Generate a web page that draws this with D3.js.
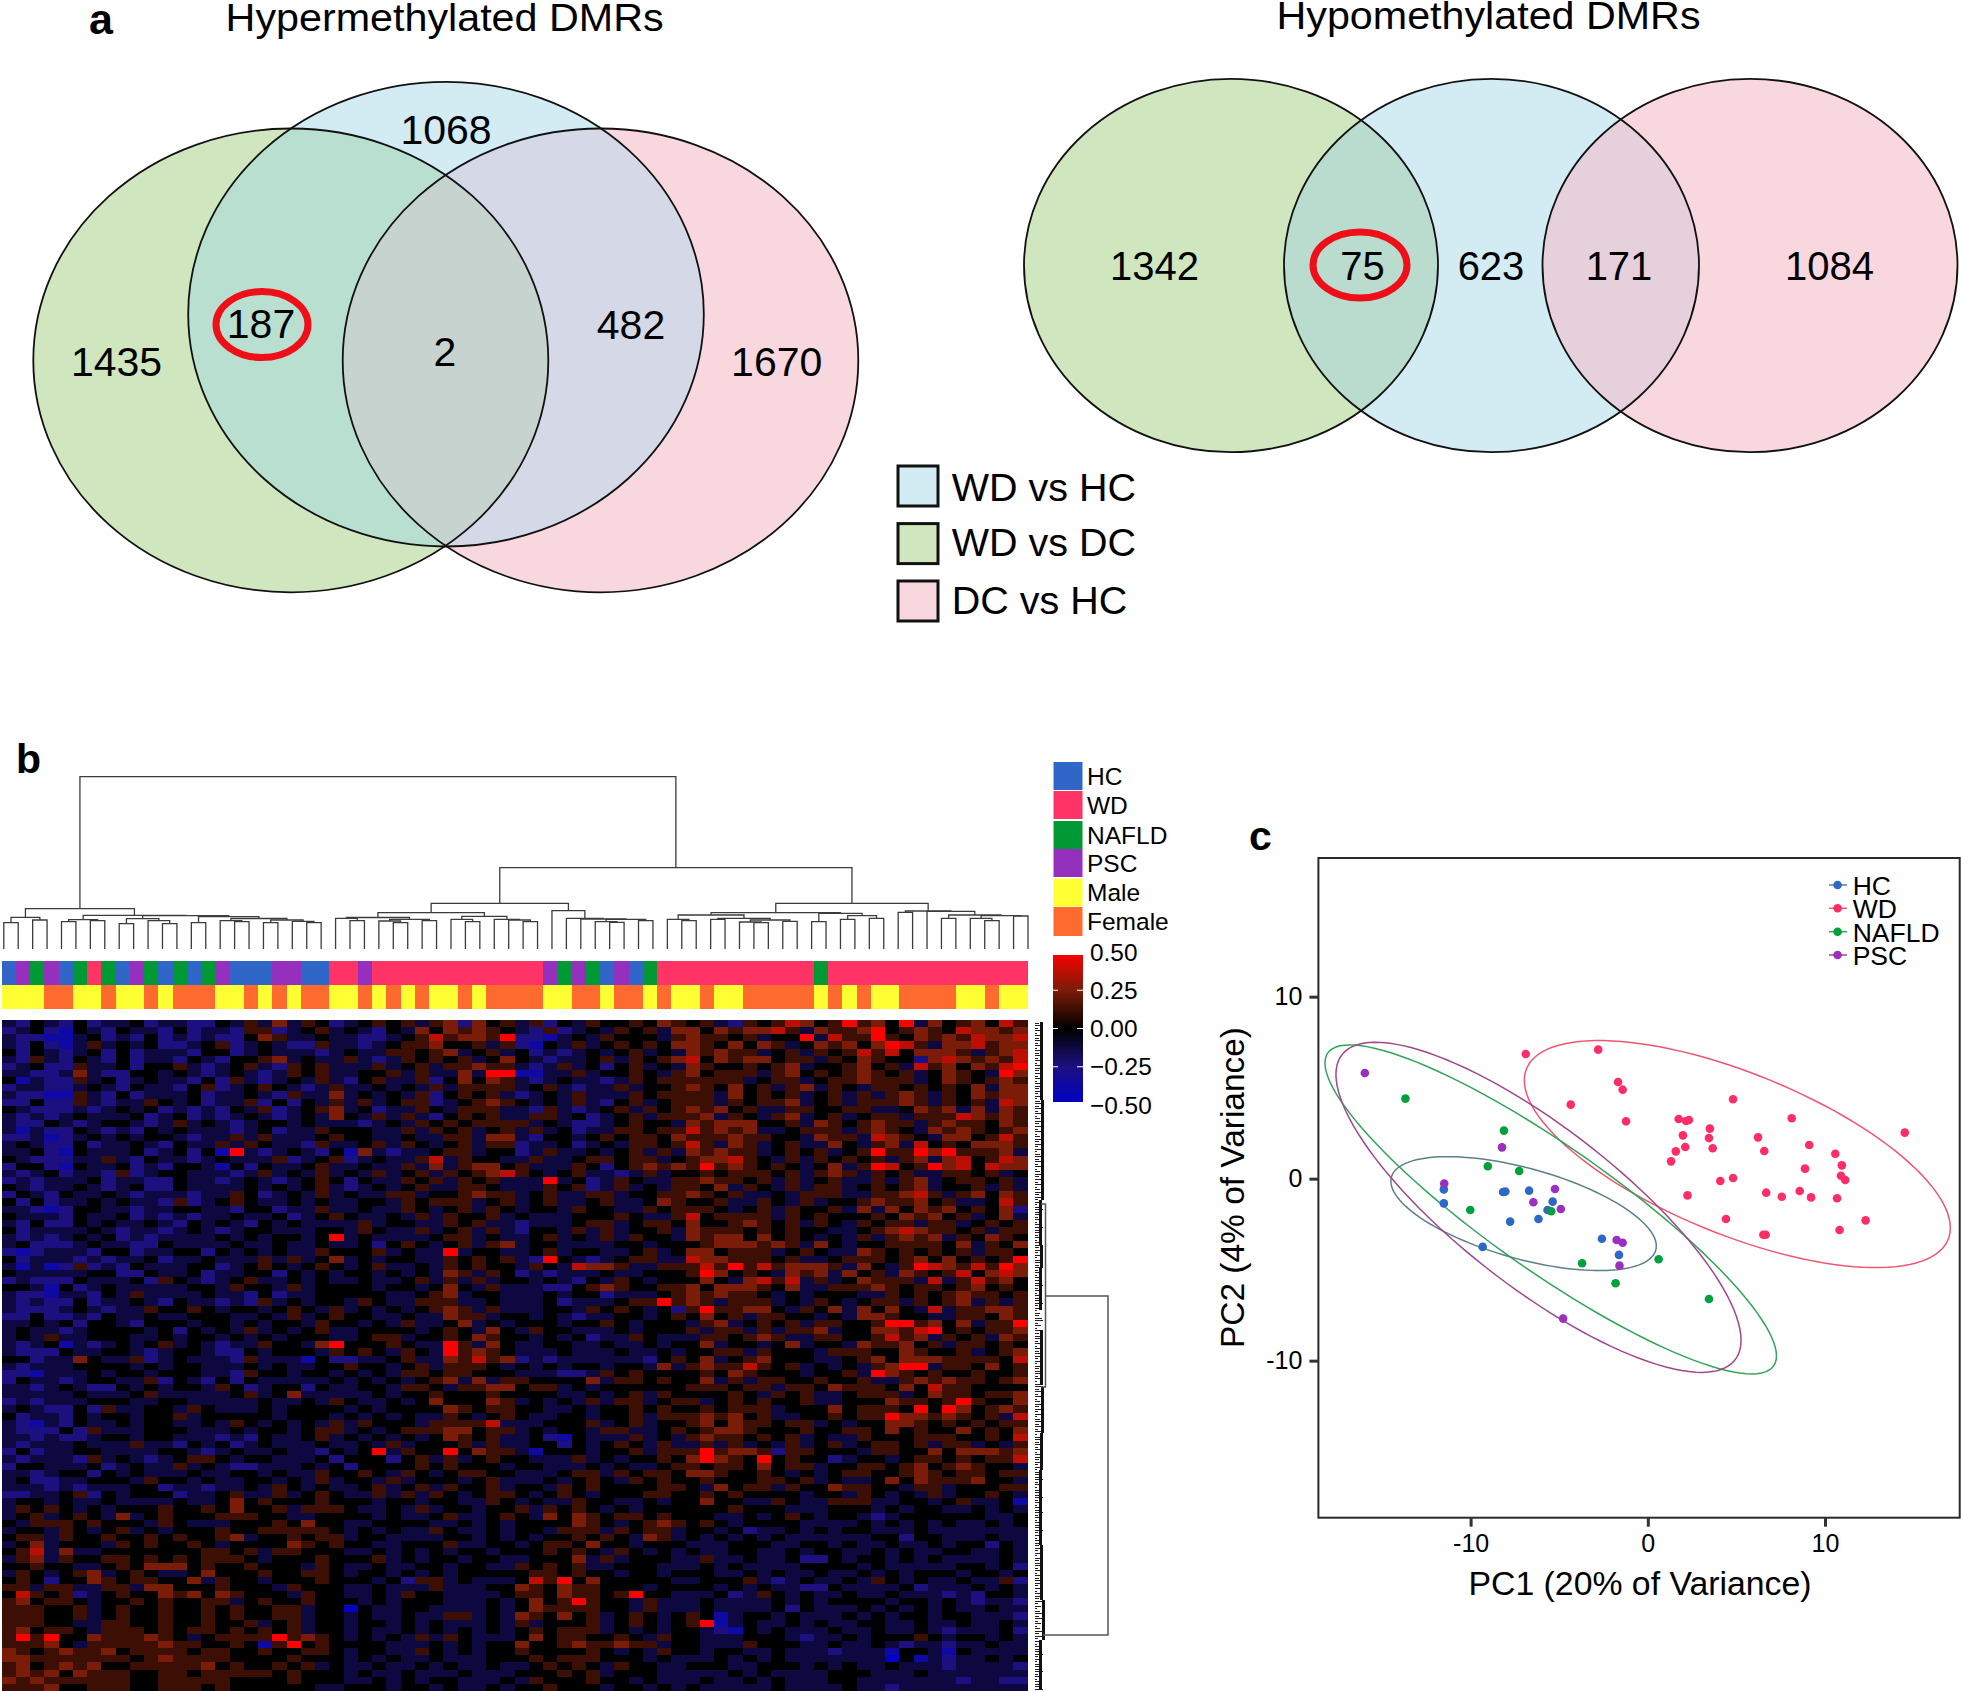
<!DOCTYPE html>
<html><head><meta charset="utf-8">
<script src="https://cdn.jsdelivr.net/npm/d3@7"></script>
<style>html,body{margin:0;background:#fff}svg{display:block}text{font-family:"Liberation Sans",Arial,sans-serif;fill:#000}</style>
</head><body><svg id="c" width="1961" height="1691"></svg>
<script>
// ---------- panel a ----------
const vennLabels = ["WD vs HC","WD vs DC","DC vs HC"];
const hyperCounts = [["1068",446,144],["187",261,338],["1435",116.5,375.5],["2",445,365.6],["482",631,338.7],["1670",776.7,375.5]];
const hypoCounts = [["1342",1154.4,280.4],["75",1362.6,280.4],["623",1491,280.4],["171",1619,280.4],["1084",1829.5,280.4]];
// ---------- panel b ----------
const groupLegend = ["HC","WD","NAFLD","PSC","Male","Female"];
const colGroup = ["HC","PSC","NAFLD","PSC","HC","NAFLD","WD","NAFLD","HC","PSC","NAFLD","HC","NAFLD","HC","NAFLD","PSC","HC","HC","HC","PSC","PSC","HC","HC","WD","WD","PSC","WD","WD","WD","WD","WD","WD","WD","WD","WD","WD","WD","WD","PSC","NAFLD","PSC","NAFLD","HC","PSC","HC","NAFLD","WD","WD","WD","WD","WD","WD","WD","WD","WD","WD","WD","NAFLD","WD","WD","WD","WD","WD","WD","WD","WD","WD","WD","WD","WD","WD","WD"];
const colSex = ["Male","Male","Male","Female","Female","Male","Male","Female","Male","Male","Female","Male","Female","Female","Female","Male","Male","Female","Male","Female","Male","Female","Female","Male","Male","Female","Male","Female","Male","Female","Male","Male","Female","Male","Female","Female","Female","Female","Male","Male","Female","Female","Male","Female","Female","Male","Female","Male","Male","Female","Male","Male","Female","Female","Female","Female","Female","Male","Female","Male","Female","Male","Male","Female","Female","Female","Female","Male","Male","Female","Male","Male"];
const groupColors = ["#3166c9","#ff3366","#009933","#9430bd","#ffff33","#ff6a2e"];
const colorbarTicks = [0.5,0.25,0,-0.25,-0.5];
// column dendrogram: [merge height, left, right]; integers are leaf columns
const colDendro = [172.3,
 [40.3,[31.7,[26.3,0,1],[29,2,3]],
   [33.7,[29.3,[27.3,4,5],[28.3,6,7]],
     [33.3,[30.3,[25.3,8,9],[28.3,10,[25.3,11,12]]],
       [32.3,[26.3,13,14],[30.5,[28.3,15,[27.3,16,17]],[29,[26.3,18,19],[27.7,20,[26.3,21,22]]]]]]]],
 [81.3,
  [45.7,
   [36.3,[31.5,[30.7,23,[28.3,24,25]],[29.7,[28,26,[26.3,27,28]],[28.3,29,30]]],
     [32.7,[29.7,31,[27.3,32,33]],[29.7,34,[29,35,[27.3,36,37]]]]],
   [38.3,38,[30.7,39,[30,40,[29.7,[27.3,41,[26.7,42,43]],[28.3,44,45]]]]]],
  [45.7,
   [36.3,[34,[29.7,46,[28.3,47,48]],[30.7,[29.7,49,50],[29,[27,51,[26.3,52,53]],[27.7,54,55]]]],
     [35.7,[27.3,56,57],[33.3,[29.7,58,59],[30.7,60,61]]]],
   [38,[36.7,62,63],[37.7,64,[34,[30.7,65,66],[33.3,[30.7,67,[28.3,68,69]],[33,70,71]]]]]]]];
const rowLeafLen = "4635274638254736285473625847362574836257483625748362574836257483625847362584736258473625847362574836257483625748362547836254783625478362547836258473625847362584736257483625748362574836257483625483625748362574836254783625478362574836257483625748362574836257483625748";
const rowSpines = [[1022,1100,1041],[1100,1200,1042],[1200,1245,1040],[1245,1268,1041],[1268,1310,1040],[1330,1385,1041],[1387,1433,1042],[1433,1470,1041],[1470,1545,1040],[1545,1600,1041],[1600,1640,1043],[1640,1690,1040]];
// heat values, one digit per cell: 0 = -0.50, 4 = 0.00, 8 = +0.50
const heatRows = [
"324324233423 322435363542 345453562645 352435445465 453254576458 564836456475",
"234214324332 423325523453 432436465654 325234354536 646566753655 684565476656",
"322113423242 323224653343 322345756658 221343544435 655453448375 585465657667",
"324213534342 234523432253 323455644535 214353454546 654646534656 468753667566",
"424323424233 324423433323 433554563453 423234345343 656553453545 757466653567",
"325324324233 243244563433 532354545346 432334535456 746566455354 654426765657",
"234225334244 532345325453 335345355655 323534245343 654454563445 645375646578",
"332236322443 432343235453 344535336388 113353445435 645553564545 654534654386",
"413225342343 324253234353 245335246465 323433235455 555534553455 655534654565",
"233223432433 245234543235 334343535555 345323353445 654645356354 355454546366",
"322115324233 342334325336 343435245453 234353335455 553645453453 535653546566",
"224225323354 342335242435 353455234565 434353245345 553545563453 555653545376",
"432223234342 323243523456 342335435553 325323453545 656453355445 533465636365",
"323234333423 423234323436 435353245453 355342345355 563543563453 455355576565",
"322432344323 534323443433 323435454555 534322345443 656664453654 565535655465",
"313224323243 433323423354 443353545345 353423355455 756563345553 565436565456",
"223123434344 323353533345 443343355366 324434545546 555655443655 376543664575",
"343224233432 433535433253 345354345355 233423435545 753653453364 356374546665",
"334214333423 424183234324 163233455344 235334345353 656553454534 585586855563",
"432223353243 323433352345 234335735443 353345545534 566754353545 453563674576",
"244214334232 443142433453 343353635664 533354245656 585654543463 587458674766",
"323423325234 433323534353 435345354567 543453323534 454555453565 354533554534",
"232333423322 433234323454 243354535453 338342354335 565545353453 353563455453",
"432334323422 433334343453 234345335543 335452353435 546354353553 454563445353",
"243243343233 323354234353 433553445655 345335534455 654533435553 355675356465",
"424233434332 523454334343 344354555345 345334533465 445335435344 565564533475",
"332124433233 443324423353 343354345354 344354433545 554345354453 636465645462",
"433324334232 323343342345 433435354453 433344454335 745555354544 454656453463",
"324224343343 243432434333 353443354533 233345534554 644565453543 545535534545",
"423333432332 343234433344 354335345353 244353534453 655545454433 456765545355",
"323234342323 333434344348 343333455343 345343535443 656646454343 535656354654",
"342223433224 333343343343 342454345356 344333344344 456665653643 445555463546",
"212333244233 442434343354 445343383443 345344334534 664555345433 654545453554",
"423332323342 334333535346 343443354545 328432345533 766555453345 554564645458",
"313125232433 344234543454 345334354544 354376653355 575857566653 643587657586",
"433333442243 342334424343 443434365354 232333433444 586454365636 453654574676",
"232224333425 432345334343 343345353534 434324354344 464367573534 655537357564",
"443142343333 344354435344 443443464353 332245654455 646665463355 565455456454",
"322133243533 334332423344 444334563443 334344233345 656554343444 335454565545",
"323224233432 433232534344 354335553343 334233345585 653555343543 455354563535",
"322234323354 454344345435 343434565353 334435454342 585566435463 646437355665",
"224223243343 344433435345 443343365534 434323344345 464535544343 665443355465",
"334342443244 434434344354 434353346343 444344543444 356345453554 458856463558",
"343323444434 243435343453 344443454364 354433343444 535535355634 466578454556",
"343533444334 344343434443 345534454654 434342335433 355456533554 457563545365",
"323413234345 343233544368 444543385364 334433433434 463443463443 655645355454",
"322243344323 443224344435 454354385654 333433343343 445535444355 544654453456",
"442336433523 433325333142 233453365756 232333333245 463456444334 564666555547",
"323334444343 443334343344 544345355543 434344344363 565575453434 356883554645",
"221333434434 443325443443 434355455444 333223545444 454654443445 386545445445",
"243323443352 432424333334 343434563635 544446355454 463535544544 533565655456",
"332343224343 443542344243 344355435566 455343444444 555455355465 554647554444",
"333334333453 333345346333 334344544454 444334345354 444543545334 555346554556",
"232333444334 433333433435 433434644465 343435355345 534545445334 446554585446",
"343224253344 354333434444 343444465455 443343445454 454555344464 555484864565",
"423324344344 534444434443 434343354345 433443445355 565645334454 558665654537",
"321324334344 334354343435 354443555573 334445345344 564655455343 446654545455",
"322242533344 433343443455 343455566455 343443553345 456654445445 546454464546",
"332322344344 333232433453 434343465453 342143335343 565545453433 544455544547",
"323334333533 243423433343 343534445353 344243454353 353534353453 455453553435",
"242334433334 432343343324 348354484655 314443445355 585665255444 355446466656",
"323332534323 455434433342 444245353454 433353434454 686548454423 443455454557",
"244333423433 534322333434 244445454443 443334343345 545546455344 554564565443",
"332344243433 343344343354 454354345544 333455354554 665445434345 544565455455",
"342233444354 434334434353 443534443453 334345435454 454445545343 346465556443",
"333232333442 332334354343 345345354453 443545444455 436455354465 544355344455",
"223345243444 233453353454 335353543455 434543444554 454544443443 543435344543",
"344343343333 433464544454 443443443354 343354433434 464433543355 533443453341",
"354543434445 445464453555 433435344344 535454343444 444544433344 434344334343",
"345345436345 444555443344 443433453345 436465455454 443343454344 323444444334",
"435554544435 433344454644 334444334343 444465434565 454344443333 434343433434",
"344354345343 444544555554 343433543343 443555354553 443423343434 433343333333",
"455354454454 544563445455 344333344343 434454543653 434343433333 344244333433",
"346344435454 454344446545 443344453344 345546443444 333444334434 334334344243",
"457363344444 445545355444 334343434434 445454354343 433443343443 343433443343",
"356354455454 545554344454 445343443443 344463534443 353343342243 443434333343",
"445443345466 645445444354 334334434433 545453344433 343433334444 343333344342",
"354345634543 346444544554 344343434444 455454434434 443343433433 434344434434",
"454244654554 463544344454 443425534333 475846444443 344453234334 354343343352",
"553553355366 444544435444 334333533344 654655444344 443434332243 333423334343",
"475452345446 564654443544 334354433334 554655458443 334235434334 334333232443",
"564554344545 445534544544 434344433343 464585443533 343333434344 443443432332",
"555445345445 445454455344 043344333343 465555443533 343333424333 434343433433",
"555445345445 445454455344 343343355343 654645345434 541344343334 343443443332",
"555443355445 445445345344 344343433343 534445345434 581343343433 443343343343",
"564554355545 455454545344 343343434343 454555343434 432143433343 343343233342",
"585844655565 434555585654 343435354333 464554454354 433344432334 344454344343",
"555643555556 554454158454 444333434344 644565565534 433354443343 343233233433",
"654565564555 545544544554 344335434344 544445434354 434433433323 331443143333",
"665555555456 555544445444 343433433344 454555444343 334343433333 330413233434",
"564565644555 556454454534 334334343343 345454354433 444334443434 334333233332",
"565646555445 545555545444 343343334333 444545344433 333434333344 433343333333",
"656555555445 555544445444 334343443334 354445443433 343343433344 333333323322",
"555644555445 554544444433 444344343343 445444344343 433333433334 332333333333"
].map(s => s.replace(/ /g,""));
// ---------- panel c ----------
const pcaSeries = ["HC","WD","NAFLD","PSC"];
const pcaColors = ["#2f67c9","#ff2d66","#00a03c","#9a2fc0"];
const ringColors = ["#5b8085","#f0566f","#2fa55a","#a0478c"];
const hcPoints = [[-11.51,-.59],[-11.51,-1.36],[-8.17,-.73],[-8.04,-.71],[-6.7,-.66],[-5.37,-1.26],[-5.66,-1.72],[-6.17,-2.22],[-7.77,-2.36],[-9.32,-3.75],[-2.59,-3.3],[-1.63,-4.19]];
const wdPoints = [[-6.89,6.85],[-2.8,7.09],[-1.68,5.31],[-1.42,4.89],[-4.35,4.07],[-1.23,3.15],[4.81,4.36],[1.74,3.28],[2.16,3.17],[2.32,3.22],[3.5,2.75],[3.45,2.23],[1.98,2.38],[6.22,2.27],[8.12,3.32],[14.5,2.53],[9.11,1.85],[3.66,1.67],[2.11,1.74],[1.58,1.5],[1.31,.95],[6.57,1.52],[10.58,1.37],[10.95,.73],[8.87,.55],[10.9,.16],[11.14,-.07],[4.81,.04],[4.09,-.13],[2.24,-.92],[6.68,-.77],[7.56,-.99],[8.57,-.68],[9.21,-1.03],[10.68,-1.08],[4.41,-2.22],[12.29,-2.29],[10.82,-2.82],[6.52,-3.08],[6.65,-3.08]];
const nafldPoints = [[-13.68,4.4],[-8.12,2.64],[-9.03,.68],[-7.26,.42],[-10.02,-1.72],[-5.45,-1.79],[-3.71,-4.65],[.61,-4.43],[-1.82,-5.75],[3.45,-6.61]];
const pscPoints = [[-15.97,5.81],[-8.23,1.72],[-11.49,-.27],[-5.24,-.57],[-6.46,-1.3],[-4.91,-1.67],[-1.76,-3.37],[-1.42,-3.52],[-1.6,-4.78],[-4.78,-7.69]];
// ellipses: centre x, centre y, half width, half height, correlation
const rings = [[-7.01,-1.92,7.49,3.13,-.57],[5.05,1.35,12.02,6.24,-.65],[-5.48,-1.69,12.74,9.04,-.89],[-6.17,-1.575,11.43,9.07,-.805]];

const svg = d3.select("#c");
const txt = (g,s,x,y,size,o={}) => {
  const t = g.append("text").attr("x",x).attr("y",y).attr("font-size",size).text(s);
  if(o.anchor) t.attr("text-anchor",o.anchor);
  if(o.weight) t.attr("font-weight",o.weight);
  if(o.len) t.attr("textLength",o.len).attr("lengthAdjust","spacingAndGlyphs");
  return t;
};
// ---- Venn ----
const G="#cfe6bf",B="#d3ebf3",P="#f8d7df",STK="#111";
const defs = svg.append("defs");
function venn(id,E,colors,counts,oval){
  const g = svg.append("g");
  ["g","b","p"].forEach((k,i)=>{
    defs.append("clipPath").attr("id",id+k).append("ellipse").attr("cx",E[i][0]).attr("cy",E[i][1]).attr("rx",E[i][2]).attr("ry",E[i][3]);
  });
  const el=(i,f,clip)=>{
    let host=g;
    (clip||[]).forEach(c=>{host=host.append("g").attr("clip-path",`url(#${id}${c})`);});
    host.append("ellipse").attr("cx",E[i][0]).attr("cy",E[i][1]).attr("rx",E[i][2]).attr("ry",E[i][3]).attr("fill",f);
  };
  el(0,G); el(2,P); el(1,B);
  el(1,colors[0],["g"]); el(1,colors[1],["p"]);
  el(1,colors[2],["g","p"]);
  E.forEach(e=>g.append("ellipse").attr("cx",e[0]).attr("cy",e[1]).attr("rx",e[2]).attr("ry",e[3]).attr("fill","none").attr("stroke",STK).attr("stroke-width",1.8));
  g.append("ellipse").attr("cx",oval[0]).attr("cy",oval[1]).attr("rx",oval[2]).attr("ry",oval[3]).attr("fill","none").attr("stroke","#ee0f18").attr("stroke-width",7);
  counts.forEach(c=>txt(g,c[0],c[1],c[2],oval[4],{anchor:"middle"}));
}
venn("h",[[290.8,360.4,257.5,231.9],[446,314.2,257.8,232.3],[600.5,360.4,257.8,231.9]],["#b9dfd0","#d5d8e6","#c6d3cf"],hyperCounts,[262,324.6,46,33,41]);
venn("o",[[1231,265.5,207,186.7],[1491.5,265.5,207.5,186.7],[1750,265.5,207.5,186.7]],["#b9dccf","#e5d0dc","#c6d3cf"],hypoCounts,[1360,265,47,33,40]);
txt(svg,"a",89,33.6,43,{weight:"bold"});
txt(svg,"Hypermethylated DMRs",225.6,31,38,{len:438});
txt(svg,"Hypomethylated DMRs",1276.5,29.4,38,{len:424});
[[466,501,B],[523.6,556,G],[581,614,P]].forEach((r,i)=>{
  svg.append("rect").attr("x",898).attr("y",r[0]).attr("width",40).attr("height",40).attr("fill",r[2]).attr("stroke",STK).attr("stroke-width",3);
  txt(svg,vennLabels[i],951.7,r[1],39.5);
});
// ---- heatmap ----
txt(svg,"b",16,773,41,{weight:"bold"});
const colX = d3.scaleBand().domain(d3.range(72)).range([1.7,1027.7]);
const rowY = d3.scaleBand().domain(d3.range(heatRows.length)).range([1020,1691]);
const heatColor = d3.scaleLinear().domain([-.5,-.25,0,.25,.5]).range(["#0000c8","#1c1080","#000000","#7a1c08","#ff0000"]);
const groupColor = d3.scaleOrdinal().domain(groupLegend).range(groupColors);
const cells=[];
heatRows.forEach((row,r)=>d3.range(72).forEach(c=>cells.push({r,c,v:(Number(row[c]??4)-4)/8})));
svg.append("g").attr("shape-rendering","crispEdges").selectAll("rect").data(cells).join("rect")
  .attr("x",d=>colX(d.c)).attr("y",d=>rowY(d.r)).attr("width",colX.bandwidth()+.5).attr("height",rowY.bandwidth()+.5).attr("fill",d=>heatColor(d.v));
[[colGroup,961,985],[colSex,985,1009]].forEach(([arr,y0,y1])=>{
  svg.append("g").attr("shape-rendering","crispEdges").selectAll("rect").data(arr).join("rect")
   .attr("x",(d,i)=>colX(i)).attr("y",y0).attr("width",colX.bandwidth()+.5).attr("height",y1-y0).attr("fill",d=>groupColor(d));
});
// column dendrogram
const leafX = d3.scaleLinear().domain([0,71]).range([3.8,1028]);
const dendY = d3.scaleLinear().domain([0,172.3]).range([949,776.7]);
const dg = svg.append("g").attr("fill","none").attr("stroke","#3c3c3c").attr("stroke-width",1.3);
function drawNode(n){
  if(typeof n==="number") return {x:leafX(n),h:0};
  const a=drawNode(n[1]), b=drawNode(n[2]);
  dg.append("path").attr("d",`M${a.x},${dendY(a.h)}V${dendY(n[0])}H${b.x}V${dendY(b.h)}`);
  return {x:(a.x+b.x)/2,h:n[0]};
}
drawNode(colDendro);
// row dendrogram
const leafY = d3.scaleBand().domain(d3.range(rowLeafLen.length)).range([1022,1691]);
const rg = svg.append("g").attr("shape-rendering","crispEdges");
rg.selectAll("line").data(rowLeafLen.split("")).join("line")
  .attr("x1",1034.5).attr("x2",d=>1034.5+ +d).attr("y1",(d,i)=>leafY(i)+1).attr("y2",(d,i)=>leafY(i)+1).attr("stroke","#222").attr("stroke-width",1);
rg.selectAll("rect").data(rowSpines).join("rect").attr("x",d=>d[2]-1).attr("y",d=>d[0]).attr("width",2.5).attr("height",d=>d[1]-d[0]).attr("fill","#111");
const rb = svg.append("g").attr("fill","none").attr("stroke","#555").attr("stroke-width",1.5);
rb.append("path").attr("d","M1041,1204H1045.5V1387H1041");
rb.append("path").attr("d","M1045.5,1296H1108V1635H1043");
// legends b
const swatchY=[762,791,821,849,878.5,907];
groupLegend.forEach((k,i)=>{
  svg.append("rect").attr("x",1053.5).attr("y",swatchY[i]).attr("width",29).attr("height",(i==5?29:28)).attr("fill",groupColor(k));
  txt(svg,k,1087,swatchY[i]+22.5,24.5);
});
const cbY = d3.scaleLinear().domain([-.5,.5]).range([1105,952]);
svg.append("g").attr("shape-rendering","crispEdges").selectAll("rect").data(d3.range(-.48,.48,.005)).join("rect")
  .attr("x",1053).attr("y",d=>cbY(d)-1).attr("width",29.5).attr("height",1.5).attr("fill",d=>heatColor(d));
colorbarTicks.forEach(t=>{
  txt(svg,t.toFixed(2).replace("-","\u2212"),1090,cbY(t)+8.5,24.4);
  if(Math.abs(t)<.5){
    svg.append("line").attr("x1",1053).attr("x2",1058).attr("y1",cbY(t)).attr("y2",cbY(t)).attr("stroke","#fff");
    svg.append("line").attr("x1",1077).attr("x2",1083).attr("y1",cbY(t)).attr("y2",cbY(t)).attr("stroke","#fff");
  }
});
// ---- PCA ----
txt(svg,"c",1249,850,41,{weight:"bold"});
const px = d3.scaleLinear().domain([-18.59,17.6]).range([1318.4,1959.7]);
const py = d3.scaleLinear().domain([-18.63,17.62]).range([1517.7,858]);
svg.append("rect").attr("x",1318.4).attr("y",858).attr("width",641.3).attr("height",659.7).attr("fill","none").attr("stroke","#2a2a2a").attr("stroke-width",2);
const ax = svg.append("g").attr("transform","translate(0,1517.7)").call(d3.axisBottom(px).tickValues([-10,0,10]).tickSize(9).tickPadding(8).tickFormat(d=>String(d)));
const ay = svg.append("g").attr("transform","translate(1318.4,0)").call(d3.axisLeft(py).tickValues([-10,0,10]).tickSize(9).tickPadding(7).tickFormat(d=>String(d)));
[ax,ay].forEach(a=>{a.select(".domain").remove();a.selectAll("line").attr("stroke","#333").attr("stroke-width",3);a.selectAll("text").attr("font-size",25).attr("font-family",'"Liberation Sans",Arial,sans-serif').attr("fill","#000");});
txt(svg,"PC1 (20% of Variance)",1468.5,1595,33,{len:343});
svg.append("text").attr("transform","translate(1244,1348) rotate(-90)").attr("font-size",33).attr("textLength",321).attr("lengthAdjust","spacingAndGlyphs").text("PC2 (4% of Variance)");
const ringLine = d3.line().x(d=>px(d[0])).y(d=>py(d[1]));
rings.forEach((r,i)=>{
  const pts=d3.range(0,361,3).map(a=>{const t=a*Math.PI/180;return [r[0]+r[2]*Math.cos(t), r[1]+r[3]*(r[4]*Math.cos(t)+Math.sqrt(1-r[4]*r[4])*Math.sin(t))];});
  svg.append("path").attr("d",ringLine(pts)).attr("fill","none").attr("stroke",ringColors[i]).attr("stroke-width",1.5);
});
[hcPoints,wdPoints,nafldPoints,pscPoints].forEach((pts,i)=>{
  svg.append("g").selectAll("circle").data(pts).join("circle").attr("cx",d=>px(d[0])).attr("cy",d=>py(d[1])).attr("r",4.3).attr("fill",pcaColors[i]);
});
const lgY=[885,908.3,931.7,955];
pcaSeries.forEach((s,i)=>{
  svg.append("line").attr("x1",1829).attr("x2",1847).attr("y1",lgY[i]).attr("y2",lgY[i]).attr("stroke",ringColors[i]).attr("stroke-width",1.5);
  svg.append("circle").attr("cx",1837.6).attr("cy",lgY[i]).attr("r",4.3).attr("fill",pcaColors[i]);
  txt(svg,s,1852.7,lgY[i]+10,26.5);
});
</script></body></html>
